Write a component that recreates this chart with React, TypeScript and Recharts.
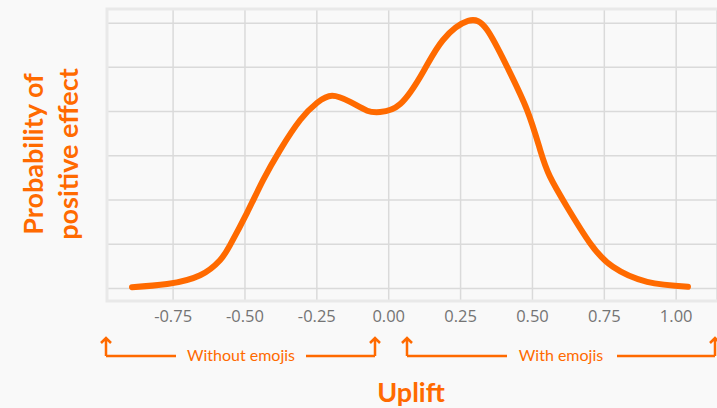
import React from 'react'
import {
  LineChart,
  Line,
  XAxis,
  YAxis,
  CartesianGrid,
  ReferenceArea,
} from 'recharts'

// uplift (x) vs. density (y)
const upliftValues = [
  -0.893, -0.771, -0.656, -0.587, -0.552, -0.493, -0.437, -0.378, -0.308,
  -0.249, -0.197, -0.134, -0.075, -0.03, 0.04, 0.12, 0.189, 0.276, 0.342,
  0.412, 0.481, 0.527, 0.561, 0.62, 0.7, 0.78, 0.899, 1.041,
]
const densityValues = [
  0.03, 0.1, 0.3, 0.64, 0.98, 1.71, 2.45, 3.13, 3.81, 4.2, 4.36, 4.22, 4.02,
  3.99, 4.17, 4.9, 5.62, 6.05, 5.85, 5.01, 4.04, 3.13, 2.53, 1.85, 1.03, 0.49,
  0.15, 0.04,
]
const xTicks = [-0.75, -0.5, -0.25, 0, 0.25, 0.5, 0.75, 1.0]
const yTicks = [0, 1, 2, 3, 4, 5, 6]

const chartData = upliftValues.map((x, i) => ({ x, y: densityValues[i] }))

const ORANGE = '#ff6a00'
const FONT = 'Lato, "Open Sans", sans-serif'

const Arrow = ({ x }: { x: number }) => (
  <path
    d={`M${x},356 L${x},338 M${x - 5},343 L${x},338 L${x + 5},343`}
    fill='none'
    stroke={ORANGE}
    strokeWidth={2.5}
  />
)

export default function App() {
  return (
    <div
      style={{
        position: 'absolute',
        left: 0,
        top: 0,
        width: 717,
        height: 408,
        background: '#f9f9f9',
        overflow: 'hidden',
      }}
    >
      <LineChart
        width={717}
        height={408}
        data={chartData}
        margin={{ top: 9, right: 0, bottom: 77, left: 107 }}
      >
        <ReferenceArea
          x1={-0.98}
          x2={1.3}
          y1={-0.283}
          y2={6.32}
          fill='none'
          stroke='#e9e9e9'
          strokeWidth={3}
          ifOverflow='visible'
        />
        <CartesianGrid stroke='#dadada' strokeWidth={1.5} />
        <XAxis
          dataKey='x'
          type='number'
          domain={[-0.98, 1.142]}
          ticks={xTicks}
          allowDataOverflow
          axisLine={false}
          tickLine={false}
          tickMargin={3}
          height={30}
          tickFormatter={(v: number) => v.toFixed(2)}
          tick={{ fill: '#747474', fontSize: 16.5, fontFamily: '"Open Sans", sans-serif' }}
        />
        <YAxis
          type='number'
          domain={[-0.283, 6.32]}
          ticks={yTicks}
          allowDataOverflow
          hide
        />
        <Line
          type='natural'
          dataKey='y'
          stroke={ORANGE}
          strokeWidth={6}
          strokeLinecap='round'
          dot={false}
          isAnimationActive={false}
        />
      </LineChart>
      <svg
        width={717}
        height={408}
        style={{ position: 'absolute', left: 0, top: 0, pointerEvents: 'none' }}
      >
        <g fill={ORANGE} fontFamily={FONT} fontWeight={700} fontSize={27} textAnchor='middle'>
          <text transform='translate(43,154) rotate(-90)'>Probability of</text>
          <text transform='translate(78,154) rotate(-90)'>positive effect</text>
          <text x={411} y={402}>Uplift</text>
        </g>
        <g fill={ORANGE} fontFamily={FONT} fontSize={16} textAnchor='middle'>
          <text x={241} y={361}>Without emojis</text>
          <text x={561} y={361}>With emojis</text>
        </g>
        <g fill='none' stroke={ORANGE} strokeWidth={2.5}>
          <path d='M106,356 L176,356 M306,356 L375,356 M407,356 L507,356 M617,356 L715,356' />
        </g>
        <Arrow x={106} />
        <Arrow x={375} />
        <Arrow x={407} />
        <Arrow x={715} />
      </svg>
    </div>
  )
}
